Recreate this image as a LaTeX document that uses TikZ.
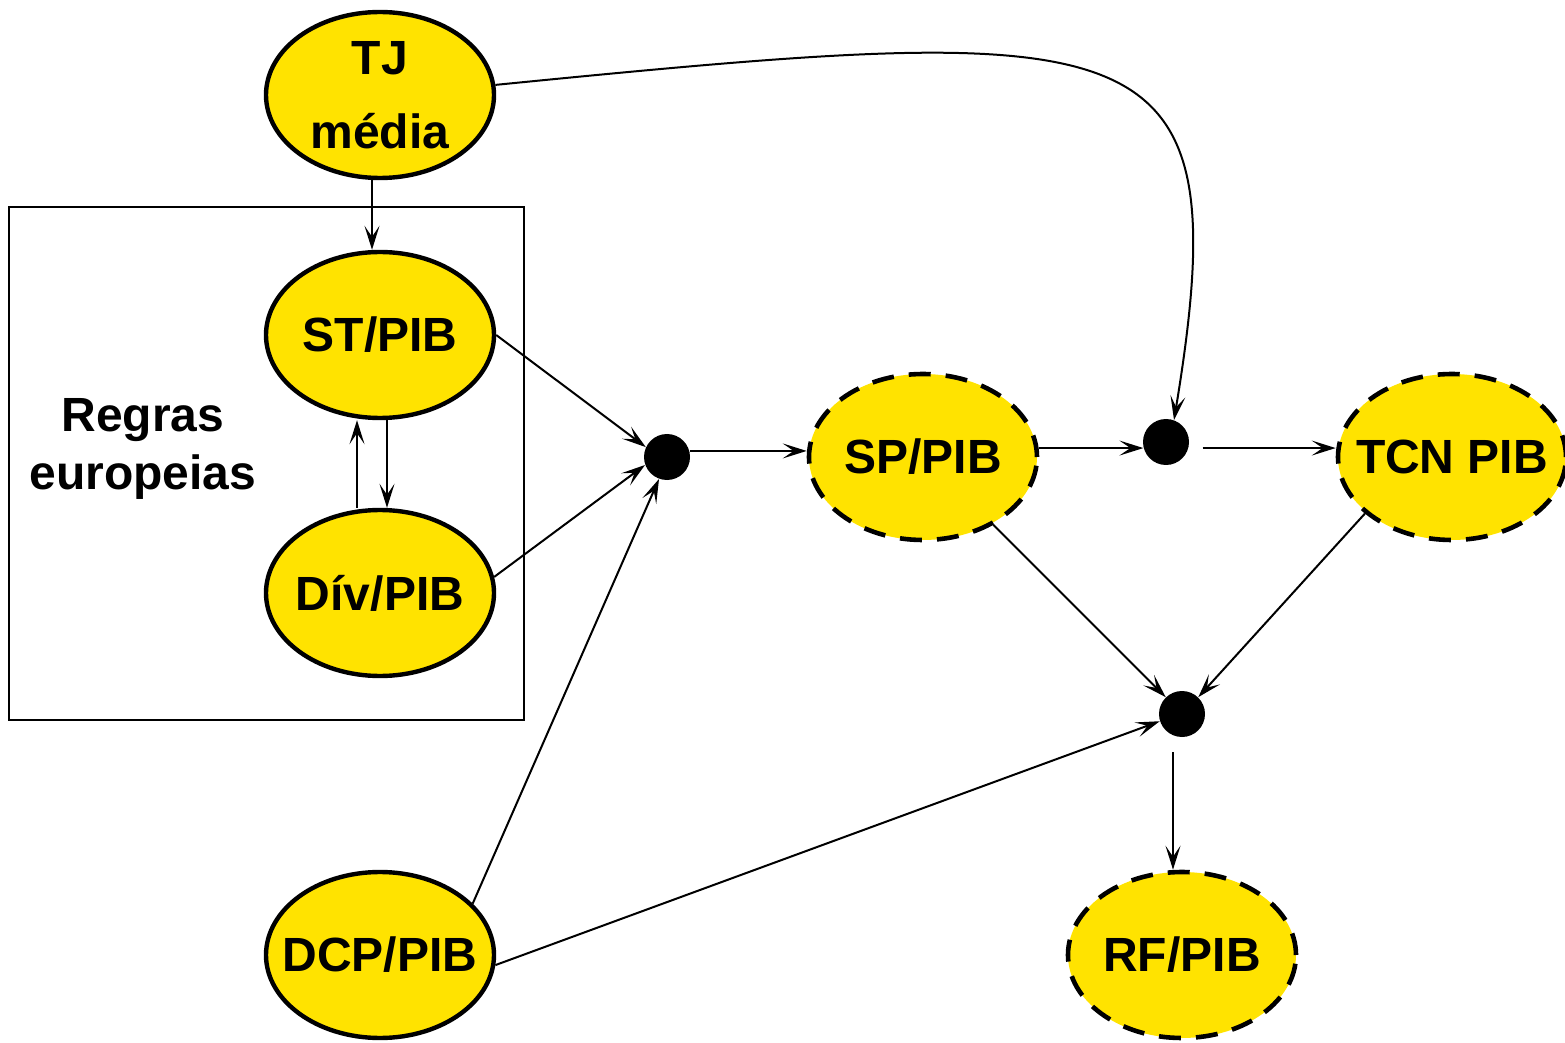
\documentclass[tikz,border=0pt]{standalone}
\usepackage{fontspec}
\setmainfont{Liberation Sans}
\usetikzlibrary{shapes.geometric,arrows.meta}
\definecolor{yel}{RGB}{255,227,0}
\tikzset{
  ell/.style={ellipse, draw, line width=2.2pt, fill=yel, minimum width=114pt, minimum height=83pt, inner sep=0pt},
  dsh/.style={ell, line width=2.3pt, dash pattern=on 11pt off 7.5pt},
  lbl/.style={font=\bfseries\fontsize{24}{29}\selectfont, align=center},
  blackdot/.style={circle, fill=black, minimum size=23pt, inner sep=0pt},
  arr/.style={line width=1pt, -{Stealth[length=12pt,width=7.5pt,inset=5.5pt]}},
}
\begin{document}
\begin{tikzpicture}[x=0.5pt,y=-0.5pt]
\useasboundingbox (0,0) rectangle (1565,1043);
% box
\node[draw, line width=1pt, minimum width=257.5pt, minimum height=256.5pt, inner sep=0pt] (box) at (266.5,463.5) {};
\node[font=\bfseries\fontsize{24}{29}\selectfont, align=center] (regras) at (143,449) {Regras\\europeias};
% ellipses
\node[ell, label={[lbl]center:{TJ\\[8pt]média}}] (TJ) at (380,95) {};
\node[ell, label={[lbl]center:ST/PIB}] (ST) at (380,335) {};
\node[ell, label={[lbl]center:Dív/PIB}] (Div) at (380,593) {};
\node[ell, label={[lbl]center:DCP/PIB}] (DCP) at (380,955) {};
\node[dsh, label={[lbl]center:SP/PIB}] (SP) at (923,457) {};
\node[dsh, label={[lbl]center:TCN PIB}] (TCN) at (1452,457) {};
\node[dsh, label={[lbl]center:RF/PIB}] (RF) at (1182,955) {};
% dots
\node[blackdot] (d1) at (667,457) {};
\node[blackdot] (d2) at (1166,442) {};
\node[blackdot] (d3) at (1182,714) {};
% edges
\draw[arr] ([xshift=-4pt]TJ.south) -- ([xshift=-4pt]ST.north);
\draw[arr] ([xshift=-11.5pt]Div.north) -- ([xshift=-11.5pt]ST.south);
\draw[arr] ([xshift=3.5pt]ST.south) -- ([xshift=3.5pt]Div.north);
\draw[arr] (ST.east) -- (d1.155);
\draw[arr] (Div.8) -- (d1.200);
\draw[arr] (DCP.29) -- (d1.250);
\draw[arr] (d1.15) -- (d1.15 -| SP.west);
\draw[arr] (d2.195 -| SP.east) -- (d2.195);
\draw[arr, shorten <=7pt] (d2.345) -- (d2.345 -| TCN.west);
\draw[arr] (TJ.5) .. controls (1150,20) and (1240,20) .. (d2.70);
\draw[arr] (SP.-44) -- (d3.134);
\draw[arr] (TCN.213) -- (d3.46);
\draw[arr] (DCP.-5) -- (d3.198);
\draw[arr, shorten <=7.5pt] ([xshift=-4.5pt]d3.south) -- ([xshift=-4.5pt]RF.north);
\end{tikzpicture}
\end{document}
